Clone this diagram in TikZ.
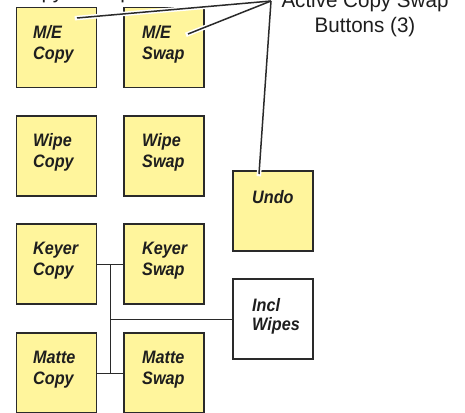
\documentclass[tikz,border=0pt]{standalone}
\usepackage{fontspec}
\setmainfont{Liberation Sans}
\newfontfamily\labfont[FakeStretch=0.9]{Liberation Sans}
\newfontfamily\callfont[FakeStretch=0.98]{Liberation Sans}
\usetikzlibrary{calc}
\definecolor{btnfill}{HTML}{FFF59C}
\definecolor{edge}{HTML}{2A2A2A}
\definecolor{ink}{HTML}{1E1E1E}
\newcommand{\twoline}[3]{\vtop{\baselineskip=#3\hbox{#1}\hbox{#2}}}
\newcommand{\twocenter}[3]{\vtop{\baselineskip=#3\halign{\hfil##\hfil\cr #1\cr #2\cr}}}
\begin{document}
\begin{tikzpicture}[x=1pt,y=-1pt,
  btn/.style={draw=edge,line width=1.3pt,fill=btnfill,minimum width=80pt,minimum height=80pt,inner sep=0pt},
  wbtn/.style={btn,fill=white},
  lab/.style={anchor=base west,inner sep=0pt,text=ink,font=\labfont\bfseries\itshape\fontsize{18}{21}\selectfont},
  wire/.style={draw=edge,line width=0.9pt},
  halo/.style={white,line width=4.5pt,line cap=rect},
  lead/.style={edge,line width=1.5pt}]
\useasboundingbox (0,0) rectangle (465,412);
% buttons
\node[btn] (mecopy) at (56.5,47.5) {};
\node[btn] (meswap) at (164,47.5) {};
\node[btn] (wipecopy) at (56.5,156) {};
\node[btn] (wipeswap) at (164,156) {};
\node[btn] (undo) at (273,211) {};
\node[btn] (keycopy) at (56.5,264) {};
\node[btn] (keyswap) at (164,264) {};
\node[wbtn] (incl) at (273,319) {};
\node[btn] (mattecopy) at (56.5,373) {};
\node[btn] (matteswap) at (164,373) {};
% labels
\node[lab] (tmecopy) at (33,38) {\twoline{M/E}{Copy}{21pt}};
\node[lab] (tmeswap) at (142,38) {\twoline{M/E}{Swap}{21pt}};
\node[lab] (twipecopy) at (33,146.5) {\twoline{Wipe}{Copy}{21pt}};
\node[lab] (twipeswap) at (142,146.5) {\twoline{Wipe}{Swap}{21pt}};
\node[lab] (tkeycopy) at (33,254.5) {\twoline{Keyer}{Copy}{21pt}};
\node[lab] (tkeyswap) at (142,254.5) {\twoline{Keyer}{Swap}{21pt}};
\node[lab] (tmattecopy) at (33,363.5) {\twoline{Matte}{Copy}{21pt}};
\node[lab] (tmatteswap) at (142,363.5) {\twoline{Matte}{Swap}{21pt}};
\node[lab] (tundo) at (252,203) {Undo};
\node[lab] (tincl) at (252,311) {\twoline{Incl}{Wipes}{19pt}};
% connectors
\coordinate (jk) at (110,264);
\coordinate (jm) at (110,373);
\coordinate (ji) at (110,319);
\draw[wire] (keycopy.east) -- (keyswap.west);
\draw[wire] (mattecopy.east) -- (matteswap.west);
\draw[wire] (jk) -- (jm);
\draw[wire] (ji) -- (incl.west);
% callout
\node[anchor=base,inner sep=0pt,text=ink,font=\callfont\fontsize{21}{25}\selectfont] (callout) at (365,8)
  {\twocenter{Active Copy Swap}{Buttons (3)}{25pt}};
\node[anchor=base west,inner sep=0pt,text=ink,font=\callfont\fontsize{21}{25}\selectfont] (colhead) at (15,-1.5) {Copy / Swap};
\coordinate (src) at (271,1);
\coordinate (e1) at (77,18);
\coordinate (e2) at (188,34);
\coordinate (e3) at (259,174);
\foreach \e in {e1,e2,e3} {\draw[halo] (src) -- (\e);}
\foreach \e in {e1,e2,e3} {\draw[lead] (src) -- (\e);}
\end{tikzpicture}
\end{document}
